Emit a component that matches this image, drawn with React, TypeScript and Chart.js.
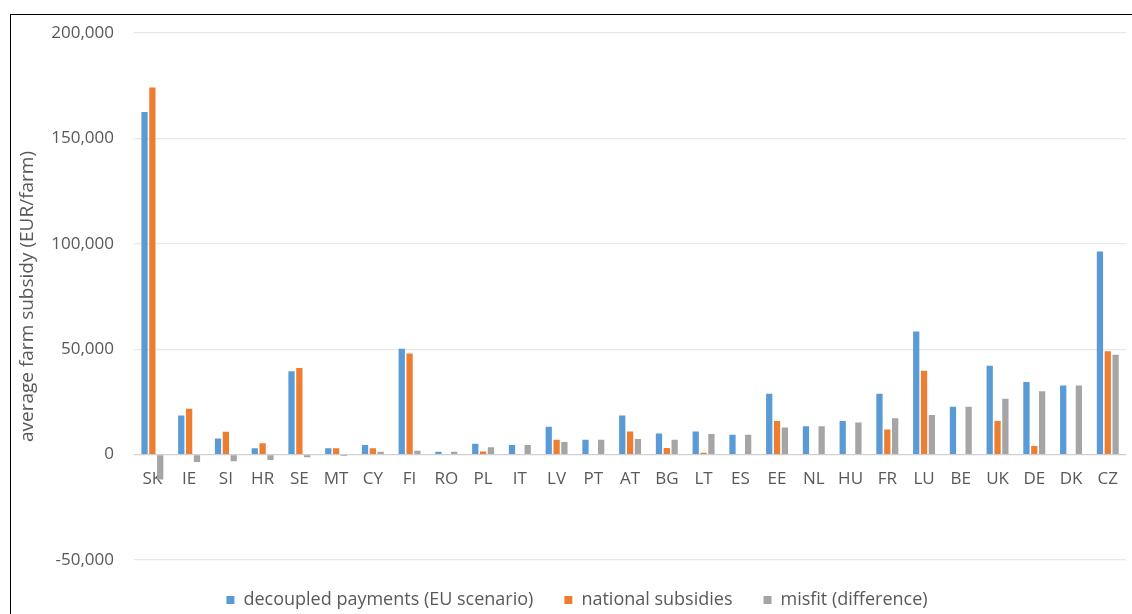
import React, { useEffect, useRef } from "react";
import { Chart, registerables } from "chart.js";

Chart.register(...registerables);

const categories = ["SK", "IE", "SI", "HR", "SE", "MT", "CY", "FI", "RO", "PL", "IT", "LV", "PT", "AT", "BG", "LT", "ES", "EE", "NL", "HU", "FR", "LU", "BE", "UK", "DE", "DK", "CZ"];
const decoupled = [162500, 18600, 7600, 3000, 39500, 3000, 4600, 50200, 1400, 5200, 4600, 13200, 7000, 18600, 10000, 11000, 9400, 28900, 13500, 15900, 28900, 58400, 22700, 42200, 34400, 32800, 96300];
const national = [174100, 21800, 10800, 5400, 41100, 3000, 3000, 48000, 0, 1500, 0, 7000, 0, 11000, 3100, 900, 0, 15900, 0, 0, 11900, 39800, 0, 15900, 4100, 0, 49000];
const misfit = [-11800, -3500, -3200, -2600, -1200, -700, 1400, 1800, 1400, 3500, 4600, 6000, 7000, 7400, 7000, 9800, 9400, 12800, 13500, 15200, 17300, 18800, 22700, 26500, 30000, 32800, 47400];
const seriesNames = ["decoupled payments (EU scenario)", "national subsidies", "misfit (difference)"];
const yMin = -50000;
const yMax = 200000;
const yStep = 50000;
const yTitle = "average farm subsidy (EUR/farm)";

const TEXT = "#595959";
const FONT = "'Open Sans', sans-serif";

export default function App() {
  const ref = useRef<HTMLCanvasElement>(null);
  useEffect(() => {
    const chart = new Chart(ref.current!, {
      type: "bar",
      data: {
        labels: categories,
        datasets: [
          { label: seriesNames[0], data: decoupled, backgroundColor: "#5B9BD5", borderWidth: 0, categoryPercentage: 0.64, barPercentage: 0.8 },
          { label: seriesNames[1], data: national, backgroundColor: "#ED7D31", borderWidth: 0, categoryPercentage: 0.64, barPercentage: 0.8 },
          { label: seriesNames[2], data: misfit, backgroundColor: "#A5A5A5", borderWidth: 0, categoryPercentage: 0.64, barPercentage: 0.8 },
        ],
      },
      options: {
        animation: false,
        responsive: false,
        maintainAspectRatio: false,
        layout: { padding: { left: 22, top: 33, right: 0, bottom: 0 } },
        plugins: {
          tooltip: { enabled: false },
          legend: {
            position: "bottom",
            maxHeight: 54,
            labels: {
              boxWidth: 8,
              boxHeight: 8,
              padding: 31,
              color: TEXT,
              font: { family: FONT, size: 18 },
            },
          },
        },
        scales: {
          x: {
            position: { y: 0 } as any,
            grid: { display: false, drawTicks: false },
            border: { display: false },
            ticks: { color: TEXT, font: { family: FONT, size: 17 }, padding: 14, maxRotation: 0, autoSkip: false },
          },
          y: {
            min: yMin,
            max: yMax,
            afterFit: (s: any) => { s.width = 112; },
            ticks: {
              stepSize: yStep,
              color: TEXT,
              padding: 20,
              font: { family: FONT, size: 17 },
              callback: (v: any) => Number(v).toLocaleString("en-US"),
            },
            grid: {
              drawTicks: false,
              color: (c: any) => (c.tick && c.tick.value === 0 ? "#d0d0d0" : "#e8e8e8"),
              lineWidth: 1.2,
            },
            border: { display: false },
            title: {
              display: true,
              text: yTitle,
              color: TEXT,
              font: { family: FONT, size: 19 },
              padding: { top: -6, bottom: 0 },
            },
          },
        },
      },
    });
    return () => chart.destroy();
  }, []);

  return (
    <div style={{ position: "fixed", left: 0, top: 0, width: 1132, height: 614, overflow: "hidden", background: "#fff" }}>
      <canvas ref={ref} width={1132} height={614} style={{ position: "absolute", left: 0, top: 0, width: 1132, height: 614 }} />
      <div style={{ position: "absolute", left: 10, top: 14, width: 2000, height: 2000, borderLeft: "1px solid #000", borderTop: "1px solid #000", pointerEvents: "none" }} />
    </div>
  );
}
